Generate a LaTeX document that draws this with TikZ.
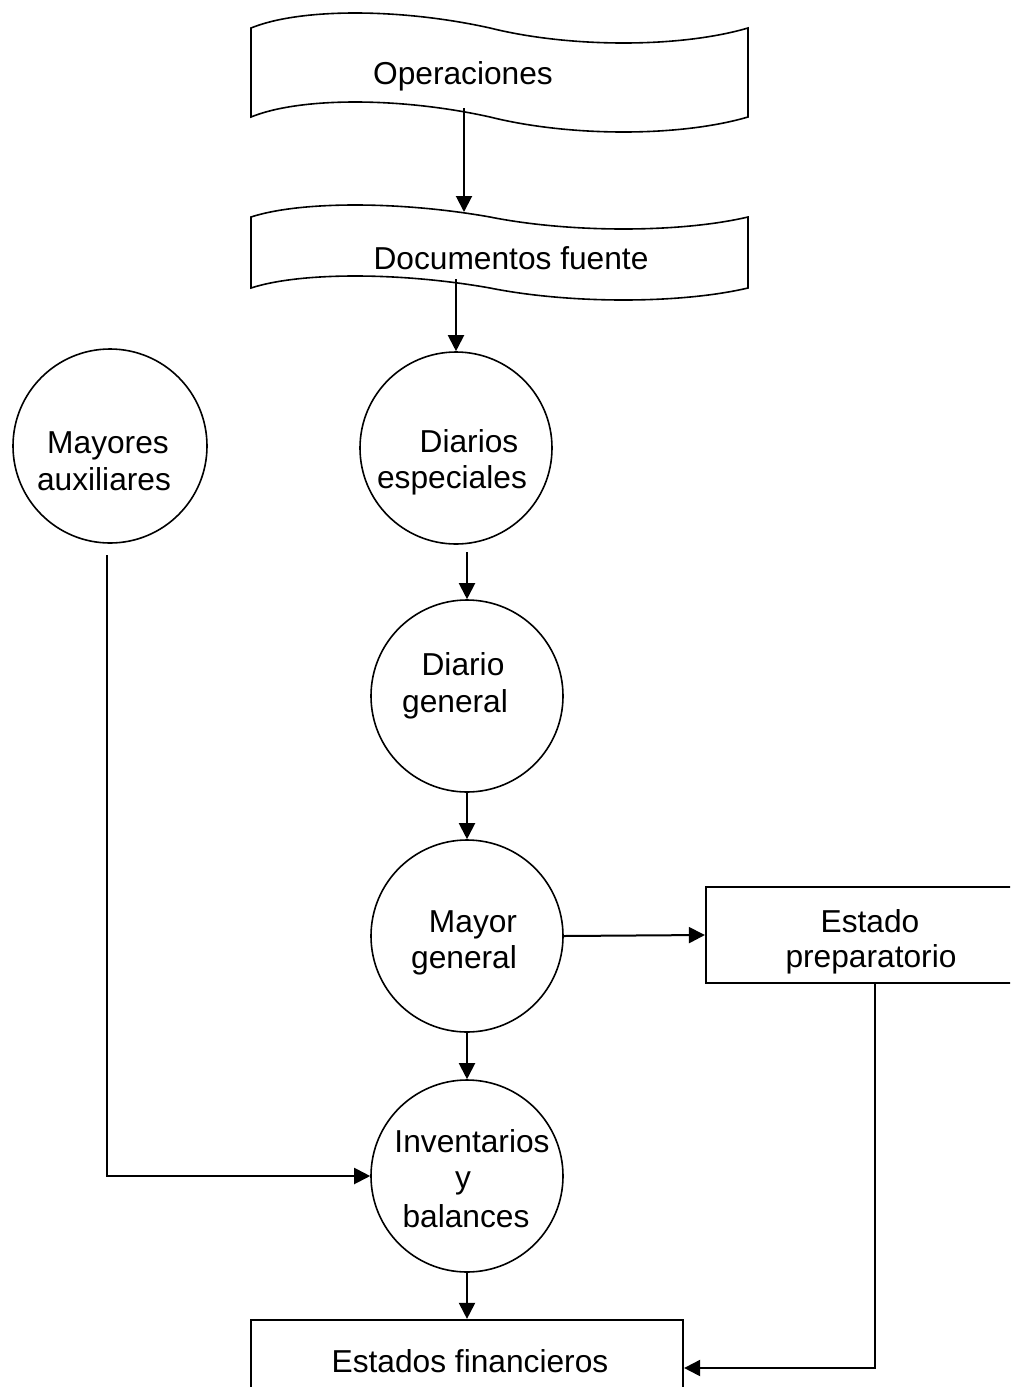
\documentclass[tikz,border=0pt]{standalone}
\usepackage{fontspec}
\setmainfont{Liberation Sans}
\usetikzlibrary{arrows.meta}
\begin{document}
\begin{tikzpicture}[x=1pt,y=-1pt,
  txt/.style={anchor=base,inner sep=0pt,font=\fontsize{31.7}{37}\selectfont},
  circ/.style={circle,draw,line width=1.6pt,inner sep=0pt,minimum size=192pt},
  boxn/.style={rectangle,draw,line width=2.2pt,inner sep=0pt},
  wave/.style={draw,line width=1.6pt,line join=miter},
  conn/.style={line width=2pt,-{Triangle[length=16pt,width=16pt]}},
  plain/.style={line width=2pt}]
\useasboundingbox (0,0) rectangle (1010,1387);
\clip (0,0) rectangle (1010,1387);
% Operaciones (tape)
\path[wave] (251,28) .. controls (300,8) and (400,8) .. (490,28)
  .. controls (570,48) and (680,48) .. (748,28) -- (748,117)
  .. controls (680,137) and (570,137) .. (490,117)
  .. controls (400,97) and (300,97) .. (251,117) -- cycle;
\node[txt] (tops) at (463,84) {Operaciones};
% Documentos fuente (tape)
\path[wave] (251,217) .. controls (300,201) and (400,201) .. (490,217)
  .. controls (570,233) and (680,233) .. (748,217) -- (748,288)
  .. controls (680,304) and (570,304) .. (490,288)
  .. controls (400,272) and (300,272) .. (251,288) -- cycle;
\node[txt] (tdocs) at (511,269) {Documentos fuente};
\coordinate (opsout) at (464,108);
\coordinate (docsin) at (464,212);
\coordinate (docsout) at (456,279);
% circles
\node[circ,minimum size=194pt] (ma) at (110,446) {};
\node[txt] (ma1) at (108,453) {Mayores};
\node[txt] (ma2) at (104,490) {auxiliares};
\node[circ] (de) at (456,448) {};
\node[txt] (de1) at (469,452) {Diarios};
\node[txt] (de2) at (452,488) {especiales};
\node[circ] (dg) at (467,696) {};
\node[txt] (dg1) at (463,675) {Diario};
\node[txt] (dg2) at (455,712) {general};
\node[circ] (mg) at (467,936) {};
\node[txt] (mg1) at (473,932) {Mayor};
\node[txt] (mg2) at (464,968) {general};
\node[circ] (inv) at (467,1176) {};
\node[txt] (inv1) at (472,1152) {Inventarios};
\node[txt] (inv2) at (463,1188) {y};
\node[txt] (inv3) at (466,1227) {balances};
% rectangles
\node[boxn,minimum width=330pt,minimum height=96pt] (ep) at (871,935) {};
\node[txt] (ep1) at (870,932) {Estado};
\node[txt] (ep2) at (871,967) {preparatorio};
\node[boxn,minimum width=432pt,minimum height=96pt] (ef) at (467,1368) {};
\node[txt] (ef1) at (470,1372) {Estados financieros};
% connectors
\coordinate (deout) at (467,552);
\coordinate (maout) at (107,555);
\coordinate (epout) at (875,983);
\draw[conn] (opsout) -- (docsin);
\draw[conn] (docsout) -- (de.north);
\draw[conn] (deout) -- (dg.north);
\draw[conn] (dg.south) -- (mg.north);
\draw[conn] (mg.south) -- (inv.north);
\draw[conn] (mg.east) -- (ep.west);
\draw[conn] (inv.south) -- (ef.north);
\draw[conn] (maout) |- (inv.west);
\draw[conn] (epout) |- (ef.east);
\end{tikzpicture}
\end{document}
